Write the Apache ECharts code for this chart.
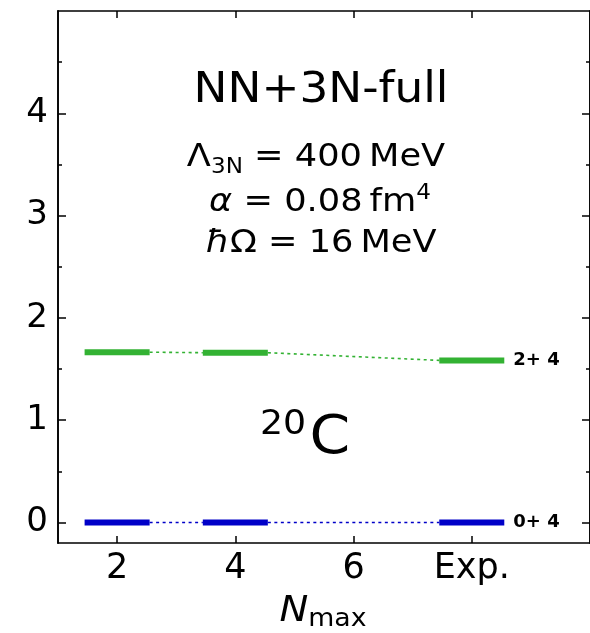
<!DOCTYPE html>
<html>
<head>
<meta charset="utf-8">
<script src="https://cdn.jsdelivr.net/npm/echarts@6/dist/echarts.min.js"></script>
<style>
  html, body { margin: 0; padding: 0; background: #fff; }
  #main { width: 590px; height: 633px; }
</style>
</head>
<body>
<div id="main"></div>
<script>
  // x positions of the columns: Nmax = 2, 4 and the experiment (drawn at 8)
  const columnX = [2, 4, 8]
  const groundState = [0.0, 0.0, 0.0]
  const excitedState = [1.665, 1.66, 1.585]
  const stateNames = ['0+ 4', '2+ 4']
  const stateColors = ['#0000c8', '#33b233']

  const xTickValues = [2, 4, 6, 8]
  const xTickLabels = ['2', '4', '6', 'Exp.']
  const yTickValues = [0, 1, 2, 3, 4]
  const yMinorValues = [-0.5, 0.5, 1.5, 2.5, 3.5, 4.5]

  const halfWidth = 0.55
  const font = 'DejaVu Sans'

  var myChart = echarts.init(document.getElementById('main'))

  function levelSeries(values, color, name) {
    let out = []
    for (let i = 0; i < columnX.length; i++) {
      let x = columnX[i]
      let s = {
        type: 'line',
        symbol: 'none',
        silent: true,
        lineStyle: { color: color, width: 6, cap: 'butt' },
        data: [[x - halfWidth, values[i]], [x + halfWidth, values[i]]],
      }
      if (i === columnX.length - 1) {
        s.endLabel = {
          show: true,
          formatter: name,
          distance: 9,
          color: '#000',
          fontFamily: font,
          fontWeight: 'bold',
          fontSize: 18,
        }
      }
      out.push(s)
      // dotted connector to the next column
      if (i < columnX.length - 1) {
        out.push({
          type: 'line',
          symbol: 'none',
          silent: true,
          lineStyle: { color: color, width: 1.6, type: [3, 3.5] },
          data: [[x + halfWidth, values[i]], [columnX[i + 1] - halfWidth, values[i + 1]]],
        })
      }
    }
    return out
  }

  const axisLine = { show: true, onZero: false, lineStyle: { color: '#000', width: 1.6 } }

  function yAxis(position, values, len, withLabels) {
    return {
      type: 'value',
      position: position,
      min: -0.2,
      max: 5,
      axisLine: axisLine,
      splitLine: { show: false },
      axisTick: {
        show: true,
        inside: true,
        length: len,
        customValues: values,
        lineStyle: { color: '#000', width: 1.5 },
      },
      axisLabel: withLabels
        ? { show: true, customValues: values, fontSize: 34, fontFamily: font, color: '#000', margin: 10 }
        : { show: false },
    }
  }

  function xAxis(position, withLabels) {
    return {
      type: 'value',
      position: position,
      min: 1,
      max: 10,
      axisLine: axisLine,
      splitLine: { show: false },
      axisTick: {
        show: true,
        inside: true,
        length: 7,
        customValues: xTickValues,
        lineStyle: { color: '#000', width: 1.5 },
      },
      axisLabel: withLabels
        ? {
            show: true,
            customValues: xTickValues,
            formatter: function (v) {
              return xTickLabels[xTickValues.indexOf(v)]
            },
            fontSize: 35,
            fontFamily: font,
            color: '#000',
            margin: 8,
          }
        : { show: false },
    }
  }

  const textStyle = { fontFamily: font, fill: '#000', align: 'center', verticalAlign: 'middle' }

  function label(x, y, sx, style) {
    return { type: 'text', x: x, y: y, scaleX: sx, style: Object.assign(style, textStyle) }
  }

  var option = {
    animation: false,
    grid: { left: 58, top: 11, right: -1, bottom: 90, containLabel: false },
    xAxis: [xAxis('bottom', true), xAxis('top', false)],
    yAxis: [
      yAxis('left', yTickValues, 8, true),
      yAxis('left', yMinorValues, 4, false),
      yAxis('right', yTickValues, 8, false),
      yAxis('right', yMinorValues, 4, false),
    ],
    series: [].concat(
      levelSeries(groundState, stateColors[0], stateNames[0]),
      levelSeries(excitedState, stateColors[1], stateNames[1])
    ),
    graphic: [
      label(321, 91, 1.08, { text: 'NN+3N-full', fontSize: 42 }),
      label(316, 158, 1.1, {
        text: '{m|Λ}{s|3N}{m| = 400\u2009MeV}',
        rich: {
          m: { fontFamily: font, fontSize: 32, lineHeight: 40 },
          s: { fontFamily: font, fontSize: 21, lineHeight: 24, verticalAlign: 'bottom' },
        },
      }),
      label(320, 203, 1.1, {
        text: '{i|α}{m| = 0.08\u2009fm}{p|4}',
        rich: {
          i: { fontFamily: font, fontStyle: 'italic', fontSize: 32, lineHeight: 40 },
          m: { fontFamily: font, fontSize: 32, lineHeight: 40 },
          p: { fontFamily: font, fontSize: 21, lineHeight: 14, verticalAlign: 'top' },
        },
      }),
      label(321, 244, 1.1, {
        text: '{i|ħ}{m|Ω = 16\u2009MeV}',
        rich: {
          i: { fontFamily: font, fontStyle: 'italic', fontSize: 32, lineHeight: 40 },
          m: { fontFamily: font, fontSize: 32, lineHeight: 40 },
        },
      }),
      label(305, 439, 1.1, {
        text: '{p|20}{m|C}',
        rich: {
          p: { fontFamily: font, fontSize: 33, lineHeight: 30, verticalAlign: 'top', padding: [0, 3, 0, 0] },
          m: { fontFamily: font, fontSize: 53, lineHeight: 60 },
        },
      }),
      label(323, 612, 1.07, {
        text: '{i|N}{s|max}',
        rich: {
          i: { fontFamily: font, fontStyle: 'italic', fontSize: 36, lineHeight: 40 },
          s: { fontFamily: font, fontSize: 25, lineHeight: 26, verticalAlign: 'bottom' },
        },
      }),
    ],
  }

  myChart.setOption(option)
  window.addEventListener('resize', function () {
    myChart.resize()
  })
</script>
</body>
</html>
